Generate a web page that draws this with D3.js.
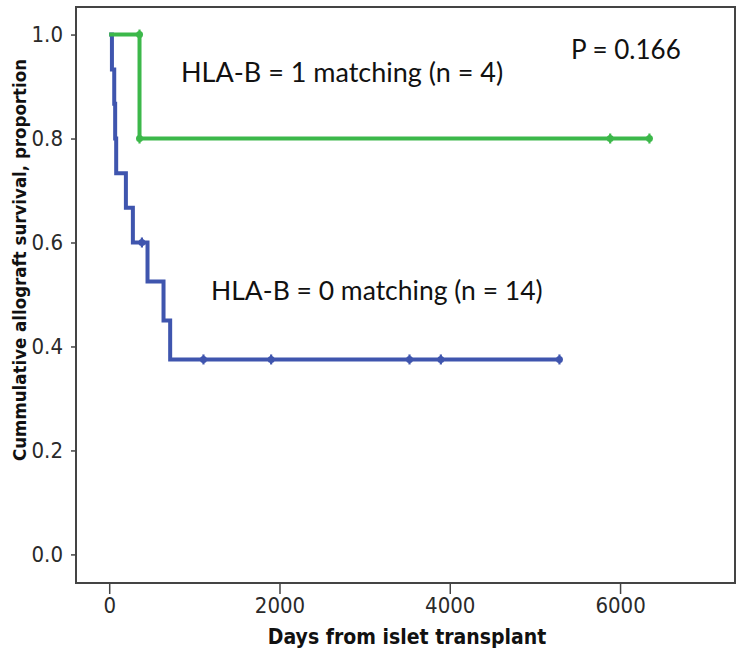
<!DOCTYPE html>
<html>
<head>
<meta charset="utf-8">
<script src="https://cdn.jsdelivr.net/npm/d3@7"></script>
<style>
  body { margin: 0; background: #fff; }
  svg { display: block; }
</style>
</head>
<body>
<svg id="canvas"></svg>
<script>
// Axis ticks
const xTicks = [0, 2000, 4000, 6000];
const yTicks = [0, 0.2, 0.4, 0.6, 0.8, 1.0];

// HLA-B = 0 matching (blue) - step points
const zeroDays = [0, 32, 59, 70, 82, 196, 278, 450, 638, 716, 5288];
const zeroSurv = [1, 0.933, 0.867, 0.8, 0.733, 0.667, 0.6, 0.525, 0.45, 0.375, 0.375];
const zeroCensorDays = [384, 1107, 1902, 3527, 3895, 5288];
const zeroCensorSurv = [0.6, 0.375, 0.375, 0.375, 0.375, 0.375];

// HLA-B = 1 matching (green)
const oneDays = [0, 356, 6345];
const oneSurv = [1, 0.8, 0.8];
const oneCensorDays = [356, 356, 5884, 6345];
const oneCensorSurv = [1, 0.8, 0.8, 0.8];

const labels = ["HLA-B = 1 matching (n = 4)", "HLA-B = 0 matching (n = 14)", "P = 0.166"];

const W = 744, H = 657;
const svg = d3.select("#canvas").attr("width", W).attr("height", H);

// plot frame bounds
const pLeft = 76, pRight = 735, pTop = 7, pBottom = 583;

const x = d3.scaleLinear().domain([-390, 7350]).range([pLeft, pRight]);
const y = d3.scaleLinear().domain([-0.055, 1.053]).range([pBottom, pTop]);

const blue = "#3f55ae";
const green = "#3cb84a";
const axisCol = "#444";
const tickFont = "'DejaVu Sans Condensed', 'DejaVu Sans', sans-serif";

// x axis
const gx = svg.append("g")
  .attr("transform", `translate(0, ${pBottom})`)
  .call(d3.axisBottom(x).tickValues(xTicks).tickSize(11).tickPadding(3).tickFormat(d3.format("d")));
gx.select(".domain").remove();
gx.selectAll("line").attr("stroke", axisCol).attr("stroke-width", 1.5);
gx.selectAll("text")
  .attr("fill", "#2a2a2a")
  .style("font-family", tickFont)
  .style("font-size", "22px");

// y axis
const gy = svg.append("g")
  .attr("transform", `translate(${pLeft}, 0)`)
  .call(d3.axisLeft(y).tickValues(yTicks).tickSize(5).tickPadding(8).tickFormat(d3.format(".1f")));
gy.select(".domain").remove();
gy.selectAll("line").attr("stroke", axisCol).attr("stroke-width", 1.5);
gy.selectAll("text")
  .attr("fill", "#2a2a2a")
  .style("font-family", tickFont)
  .style("font-size", "22px");

// frame
svg.append("rect")
  .attr("x", pLeft).attr("y", pTop)
  .attr("width", pRight - pLeft).attr("height", pBottom - pTop)
  .attr("fill", "none")
  .attr("stroke", axisCol)
  .attr("stroke-width", 2);

// axis titles
svg.append("text")
  .attr("x", 407)
  .attr("y", 644)
  .attr("text-anchor", "middle")
  .attr("fill", "#111")
  .style("font-family", tickFont)
  .style("font-weight", "bold")
  .style("font-size", "21px")
  .text("Days from islet transplant");

svg.append("text")
  .attr("transform", "translate(26, 260) rotate(-90)")
  .attr("text-anchor", "middle")
  .attr("fill", "#111")
  .style("font-family", tickFont)
  .style("font-weight", "bold")
  .style("font-size", "18.5px")
  .text("Cummulative allograft survival, proportion");

// survival curves
const step = d3.line()
  .x(d => x(d[0]))
  .y(d => y(d[1]))
  .curve(d3.curveStepAfter);

const curves = [
  { days: zeroDays, surv: zeroSurv, cd: zeroCensorDays, cs: zeroCensorSurv, color: blue },
  { days: oneDays, surv: oneSurv, cd: oneCensorDays, cs: oneCensorSurv, color: green }
];

curves.forEach(c => {
  const pts = c.days.map((d, i) => [d, c.surv[i]]);
  svg.append("path")
    .datum(pts)
    .attr("d", step)
    .attr("fill", "none")
    .attr("stroke", c.color)
    .attr("stroke-width", 4);

  const cens = c.cd.map((d, i) => [d, c.cs[i]]);
  const g = svg.append("g");
  g.selectAll("circle")
    .data(cens)
    .enter()
    .append("circle")
    .attr("cx", d => x(d[0]))
    .attr("cy", d => y(d[1]))
    .attr("r", 3.5)
    .attr("fill", c.color);
  g.selectAll("line")
    .data(cens)
    .enter()
    .append("line")
    .attr("x1", d => x(d[0])).attr("x2", d => x(d[0]))
    .attr("y1", d => y(d[1]) - 5).attr("y2", d => y(d[1]) + 5)
    .attr("stroke", c.color)
    .attr("stroke-width", 2.2);
});

// annotations
const annFont = "Lato, 'Open Sans', sans-serif";
svg.append("text")
  .attr("x", 181).attr("y", 82)
  .style("font-family", annFont).style("font-size", "27px")
  .attr("fill", "#111")
  .text(labels[0]);
svg.append("text")
  .attr("x", 211).attr("y", 300)
  .style("font-family", annFont).style("font-size", "26.5px")
  .attr("fill", "#111")
  .text(labels[1]);
svg.append("text")
  .attr("x", 571).attr("y", 59)
  .style("font-family", annFont).style("font-size", "26px")
  .attr("fill", "#111")
  .text(labels[2]);
</script>
</body>
</html>
